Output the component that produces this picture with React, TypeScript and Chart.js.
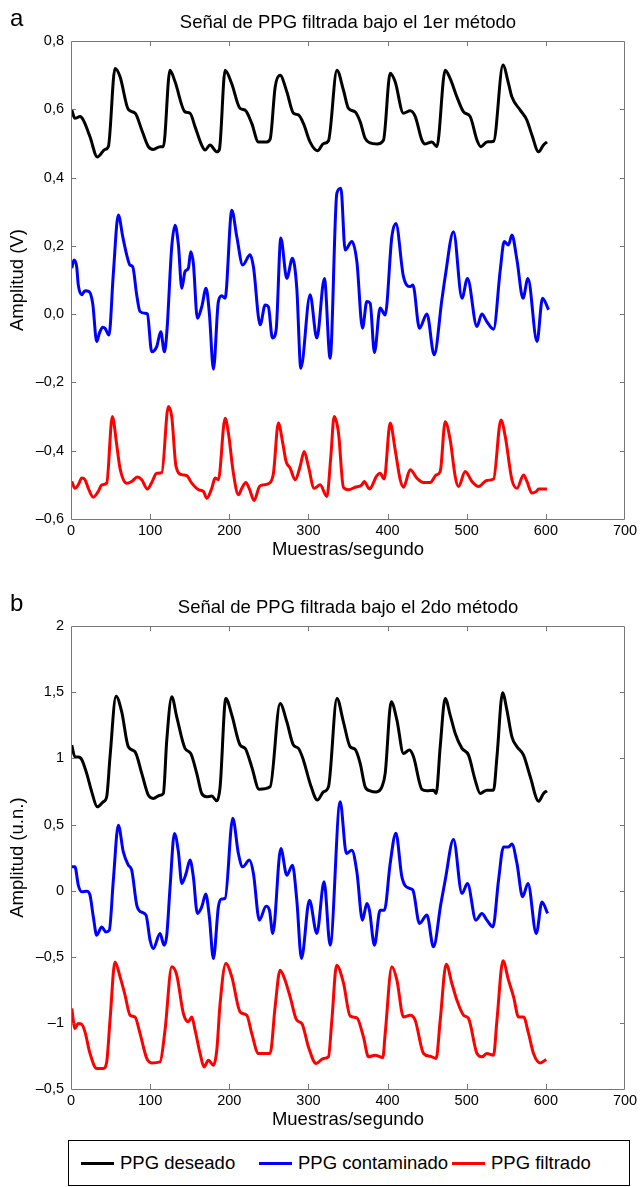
import React, { useEffect, useRef } from "react";
import { Chart, registerables } from "chart.js";

Chart.register(...registerables);

const FONT = "'Liberation Sans', Arial, Helvetica, sans-serif";

// ---- axis ticks / labels ----
const xTicks = [0, 100, 200, 300, 400, 500, 600, 700];
const yTicksA = [-0.6, -0.4, -0.2, 0, 0.2, 0.4, 0.6, 0.8];
const yLabelsA = ["\u20130,6", "\u20130,4", "\u20130,2", "0,0", "0,2", "0,4", "0,6", "0,8"];
const yTicksB = [-1.5, -1, -0.5, 0, 0.5, 1, 1.5, 2];
const yLabelsB = ["\u20130,5", "\u20131", "\u20130,5", "0", "0,5", "1", "1,5", "2"];

const titleA = "Señal de PPG filtrada bajo el 1er método";
const titleB = "Señal de PPG filtrada bajo el 2do método";
const yTitleA = "Amplitud (V)";
const yTitleB = "Amplitud (u.n.)";
const xTitle = "Muestras/segundo";
const seriesNames = ["PPG deseado", "PPG contaminado", "PPG filtrado"];
const seriesColors = ["#000000", "#0000ff", "#ff0000"];

// ---- panel a: [sample, amplitude] ----
const deseadoA: [number, number][] = [
  [1, 0.598], [5, 0.574], [11.4, 0.579], [15.5, 0.569], [24, 0.52], [33.2, 0.461], [43, 0.483], [47.2, 0.491],
  [55.6, 0.72], [62, 0.696], [72.4, 0.6], [81, 0.589], [89.4, 0.54], [97.7, 0.491], [104, 0.483], [112.5, 0.491], [116.7, 0.491],
  [125, 0.715], [131.5, 0.681], [144, 0.593], [150.4, 0.589], [156.8, 0.549], [165, 0.496], [169.4, 0.481], [175.7, 0.496], [184.2, 0.476], [187.5, 0.483],
  [194.7, 0.715], [203, 0.676], [213.6, 0.603], [220, 0.598], [228.4, 0.559], [236.8, 0.505], [247.4, 0.505], [251.6, 0.513],
  [258, 0.666], [264.2, 0.7], [272.7, 0.652], [281, 0.589], [287.4, 0.584], [293.7, 0.559], [302, 0.505], [311.4, 0.479], [319, 0.5], [325.3, 0.508],
  [336, 0.715], [344.2, 0.657], [350.6, 0.603], [359, 0.593], [365.4, 0.564], [371.7, 0.515], [378, 0.502], [386.5, 0.499], [394.8, 0.51],
  [403.3, 0.706], [409.6, 0.681], [420, 0.589], [428.6, 0.596], [435, 0.579], [443.4, 0.51], [447.5, 0.499], [456, 0.505], [462.3, 0.491],
  [472.8, 0.715], [479, 0.691], [487.6, 0.637], [496, 0.593], [504.4, 0.579], [513, 0.51], [518, 0.491], [525.5, 0.505], [534, 0.507],
  [545.8, 0.73], [552.8, 0.676], [557, 0.637], [567.6, 0.598], [576, 0.569], [582.4, 0.525], [590.8, 0.476], [597, 0.496], [601.4, 0.505],
];

const contaminadoA: [number, number][] = [
  [1, 0.135], [3.8, 0.159], [7.2, 0.139], [9.2, 0.086], [13.5, 0.057], [17.7, 0.069], [23.1, 0.066], [27.4, 0.032],
  [32.5, -0.08], [35.8, -0.056], [40.1, -0.038], [43, -0.041], [48, -0.061], [53.5, 0.12], [59.8, 0.291], [65.4, 0.227],
  [70.4, 0.174], [74.6, 0.144], [78, 0.139], [83, 0.057], [87.2, 0.008], [93.6, 0.003], [96.5, 0.001], [102, -0.11],
  [108.3, -0.095], [113.4, -0.051], [118, -0.11], [121, -0.056], [127.3, 0.198], [131.5, 0.261], [135.7, 0.203], [140, 0.076],
  [144.1, 0.125], [148.3, 0.135], [151.3, 0.183], [154.6, 0.149], [159.7, -0.012], [165.2, 0.022], [170.7, 0.076], [174.8, 0.003],
  [180, -0.161], [186.2, 0.037], [190.5, 0.054], [194.7, 0.047], [203.2, 0.305], [209.5, 0.227], [217, 0.144], [226.3, 0.174],
  [230.5, 0.139], [239, -0.031], [245.3, 0.027], [249.4, 0.022], [254.5, -0.07], [259.2, -0.046], [265.1, 0.223], [272.7, 0.105],
  [279.8, 0.164], [285.3, 0.076], [290.4, -0.158], [302.1, 0.057], [310.6, -0.07], [320.2, 0.105], [327.4, -0.129], [335.9, 0.354],
  [341, 0.369], [346.4, 0.188], [354.9, 0.213], [361.2, 0.154], [368.3, -0.041], [373.8, 0.037], [378, 0.032], [383.4, -0.112],
  [390.6, 0.018], [397, -0.002], [405.4, 0.227], [410.5, 0.266], [420.1, 0.11], [428.6, 0.081], [432, 0.086], [440.3, -0.041],
  [449.7, 0.001], [458.9, -0.119], [468.6, 0.042], [472.8, 0.11], [483.3, 0.242], [494, 0.047], [501, 0.105], [512.9, -0.036],
  [519.2, 0.001], [525.5, -0.022], [533.9, -0.044], [542.4, 0.13], [547.4, 0.213], [552.8, 0.203], [557.1, 0.232], [563.5, 0.159],
  [571.1, 0.047], [577.4, 0.105], [588.8, -0.08], [595.8, 0.047], [603.4, 0.013],
];

const filtradoA: [number, number][] = [
  [1, -0.49], [5, -0.51], [9.2, -0.5], [13.5, -0.48], [17.7, -0.485], [21.9, -0.51], [28.2, -0.536], [34.5, -0.519],
  [38.8, -0.5], [45.1, -0.495], [52.2, -0.3], [57.8, -0.383], [61.9, -0.451], [70.4, -0.495], [76.7, -0.49], [83.8, -0.477],
  [89.4, -0.485], [96.5, -0.512], [102, -0.493], [108.3, -0.466], [114.7, -0.464], [123, -0.27], [127.3, -0.3], [132.7, -0.446],
  [140, -0.47], [146.3, -0.473], [152.6, -0.495], [161, -0.514], [167.3, -0.519], [171.6, -0.539], [177.9, -0.51], [182, -0.48],
  [186.2, -0.485], [194.7, -0.305], [198.9, -0.348], [205.2, -0.466], [211.5, -0.529], [215.8, -0.51], [220.9, -0.493], [225.4, -0.512],
  [231.4, -0.546], [238, -0.505], [243, -0.5], [250.7, -0.495], [255.8, -0.466], [262, -0.319], [267.6, -0.378], [271.8, -0.432],
  [276.9, -0.451], [283.2, -0.485], [289.5, -0.446], [294.6, -0.402], [300, -0.446], [307.2, -0.51], [314.8, -0.5], [323.3, -0.534],
  [328.3, -0.417], [332.5, -0.3], [338, -0.348], [344.2, -0.507], [350.6, -0.514], [359, -0.507], [367.5, -0.5], [370.4, -0.49],
  [377.1, -0.512], [386.5, -0.473], [390.6, -0.466], [395.7, -0.483], [403.3, -0.319], [409.6, -0.397], [416, -0.485], [420.1, -0.507],
  [428.6, -0.456], [437, -0.48], [445.4, -0.493], [453.9, -0.493], [461.4, -0.471], [466.5, -0.461], [472.8, -0.315], [479.1, -0.368],
  [485.5, -0.476], [489.6, -0.505], [498.1, -0.461], [506.6, -0.49], [514.9, -0.505], [525.5, -0.487], [533.9, -0.483], [543.2, -0.31],
  [548.7, -0.358], [557.1, -0.485], [563.5, -0.51], [571.8, -0.471], [576.1, -0.49], [582.4, -0.524], [588, -0.519], [590.8, -0.512],
  [601.4, -0.512],
];

// ---- panel b ----
const deseadoB: [number, number][] = [
  [1, 1.1], [5, 1.011], [9.2, 1.011], [13.5, 0.992], [19.8, 0.887], [26.2, 0.747], [33.2, 0.634], [40.8, 0.672], [45.1, 0.71],
  [49.3, 1.012], [56.9, 1.471], [64.1, 1.352], [72.4, 1.088], [80.9, 1.05], [89.4, 0.887], [97.7, 0.722], [104, 0.697], [112.5, 0.722],
  [116.7, 0.735], [121, 1.138], [127.3, 1.466], [133.6, 1.315], [144.1, 1.076], [151.3, 1.038], [158.9, 0.887], [165.2, 0.735],
  [171.5, 0.71], [177.9, 0.715], [184.2, 0.679], [188.4, 0.785], [195.6, 1.454], [203.2, 1.328], [213.7, 1.101], [220, 1.076],
  [228.4, 0.936], [237.7, 0.766], [251.6, 0.785], [264.2, 1.416], [272.7, 1.277], [281, 1.101], [287.4, 1.076], [293.7, 0.987],
  [302.1, 0.811], [311.4, 0.685], [319, 0.747], [325.3, 0.785], [336, 1.454], [344.2, 1.277], [352.7, 1.088], [359, 1.068],
  [365.4, 0.962], [371.7, 0.785], [378, 0.755], [385.6, 0.747], [392.8, 0.785], [397, 0.887], [404.6, 1.428], [411.8, 1.29],
  [420.1, 1.038], [427.7, 1.063], [432.8, 1.012], [443.4, 0.766], [449.7, 0.755], [458, 0.76], [461.4, 0.735], [466.5, 1.088],
  [472.8, 1.454], [479.1, 1.328], [485.5, 1.189], [494, 1.076], [502.3, 1.025], [510.7, 0.836], [517, 0.735], [525.5, 0.76],
  [533.9, 0.76], [538.2, 1.012], [545.3, 1.496], [550.8, 1.365], [557.1, 1.163], [563.5, 1.088], [571.8, 1.025], [580.3, 0.861],
  [590.8, 0.677], [597.1, 0.735], [601.4, 0.755],
];

const contaminadoB: [number, number][] = [
  [1, 0.18], [5, 0.18], [9.2, 0.042], [13.5, -0.009], [19.8, -0.004], [24, -0.034], [28.2, -0.198], [32.5, -0.337],
  [38.8, -0.274], [44.2, -0.312], [48.4, -0.299], [53.5, 0.079], [59.8, 0.495], [66.1, 0.293], [72.4, 0.193], [76.7, 0.155],
  [83.1, -0.11], [88.1, -0.16], [94.8, -0.185], [99.9, -0.374], [104, -0.437], [112.5, -0.324], [117.6, -0.412], [121, -0.337],
  [125.2, 0.029], [130.7, 0.433], [135.7, 0.293], [140, 0.054], [145.4, 0.13], [150.4, 0.231], [154.6, 0.104], [159.7, -0.172],
  [165.2, -0.123], [170.3, -0.026], [174.8, -0.198], [179.9, -0.513], [186.2, -0.123], [189.6, -0.064], [194.7, -0.059], [204.4, 0.548],
  [211.5, 0.281], [217, 0.18], [225.4, 0.231], [230.5, 0.13], [238, -0.223], [246.5, -0.117], [250.7, -0.148], [255, -0.324],
  [265.1, 0.319], [272.7, 0.117], [279.8, 0.193], [285.3, -0.072], [291.2, -0.513], [301.3, -0.072], [310.6, -0.324], [319.8, 0.067],
  [327.4, -0.412], [340.1, 0.672], [348, 0.281], [354.9, 0.306], [361.2, 0.142], [368.3, -0.223], [373.8, -0.097], [377.1, -0.148],
  [383.4, -0.412], [390.6, -0.148], [396, -0.148], [403.3, 0.206], [410.5, 0.435], [418.1, 0.104], [427.7, 0.017], [432, 0.004],
  [440.3, -0.248], [449.7, -0.185], [458, -0.425], [467.4, -0.097], [472.8, 0.079], [483.3, 0.386], [494, -0.021], [501, 0.054],
  [511.6, -0.223], [519.2, -0.172], [525.5, -0.223], [533.1, -0.274], [540.2, 0.079], [546.5, 0.331], [552.8, 0.331], [557.1, 0.352],
  [563.5, 0.206], [570.6, -0.047], [577.4, 0.054], [587.9, -0.324], [595.1, -0.085], [602.2, -0.172],
];

const filtradoB: [number, number][] = [
  [1, -0.891], [5, -1.042], [9.2, -1.005], [13.5, -1.01], [17.7, -1.068], [24, -1.231], [32.5, -1.345], [40.8, -1.345],
  [45.1, -1.295], [49.3, -0.98], [55.6, -0.539], [62, -0.652], [68.3, -0.79], [74.6, -0.942], [80.9, -0.955], [87.2, -1.08],
  [95.7, -1.269], [102, -1.303], [112.5, -1.295], [118.8, -1.055], [127.3, -0.576], [133.6, -0.639], [142, -0.929], [148.3, -0.992],
  [152.6, -0.955], [156.8, -1.055], [163.1, -1.231], [168.1, -1.333], [173.6, -1.282], [179.9, -1.32], [184.2, -1.207], [188.4, -0.853],
  [195.6, -0.551], [203.2, -0.652], [213.7, -0.917], [222.1, -0.942], [228.4, -1.08], [236.8, -1.231], [251.6, -1.231], [257.9, -0.879],
  [264.2, -0.601], [270.5, -0.677], [276.9, -0.803], [285.3, -0.98], [291.7, -1.005], [300, -1.182], [309.7, -1.307], [319, -1.269],
  [325.3, -1.257], [329.6, -0.98], [335.6, -0.564], [344.2, -0.696], [352.7, -0.948], [361.2, -0.962], [369.5, -1.106], [375.9, -1.257],
  [384.3, -1.244], [394, -1.262], [397, -1.08], [405.4, -0.576], [411.8, -0.677], [420.1, -0.955], [428.6, -0.942], [434.9, -0.98],
  [445.4, -1.231], [453.9, -1.252], [461.4, -1.269], [466.5, -0.98], [474.1, -0.556], [481.3, -0.702], [487.6, -0.828], [496, -0.942],
  [502.3, -0.967], [512.9, -1.231], [519.2, -1.257], [525.5, -1.231], [533.9, -1.244], [538.2, -0.98], [545.8, -0.531], [552.8, -0.677],
  [559.2, -0.803], [565.5, -0.955], [571.8, -0.955], [578.1, -1.08], [584.4, -1.231], [592.9, -1.303], [600.5, -1.277],
];

// ---- MATLAB style box with inward ticks ----
const framePlugin = {
  id: "matlabFrame",
  afterDatasetsDraw(chart: any) {
    const { ctx, chartArea } = chart;
    const { left, right, top, bottom } = chartArea;
    const xs = chart.scales.x;
    const ys = chart.scales.y;
    const L = 5;
    ctx.save();
    ctx.strokeStyle = "#777777";
    ctx.lineWidth = 1;
    ctx.beginPath();
    ctx.rect(Math.round(left) + 0.5, Math.round(top) + 0.5, Math.round(right - left) - 1, Math.round(bottom - top));
    xs.ticks.forEach((t: any) => {
      const px = Math.round(xs.getPixelForValue(t.value)) + 0.5;
      if (px <= left + 2 || px >= right - 2) return;
      ctx.moveTo(px, bottom);
      ctx.lineTo(px, bottom - L);
      ctx.moveTo(px, top);
      ctx.lineTo(px, top + L);
    });
    ys.ticks.forEach((t: any) => {
      const py = Math.round(ys.getPixelForValue(t.value)) + 0.5;
      if (py <= top + 2 || py >= bottom - 2) return;
      ctx.moveTo(left, py);
      ctx.lineTo(left + L, py);
      ctx.moveTo(right, py);
      ctx.lineTo(right - L, py);
    });
    ctx.stroke();
    ctx.restore();
  },
};

type Series = { name: string; color: string; points: [number, number][] };

function makeConfig(
  series: Series[],
  yMin: number,
  yMax: number,
  yTicks: number[],
  yLabels: string[],
  title: string,
  yTitle: string
): any {
  return {
    type: "line",
    data: {
      datasets: series.map((s) => ({
        label: s.name,
        data: s.points.map(([x, y]) => ({ x, y })),
        borderColor: s.color,
        backgroundColor: s.color,
        borderWidth: 3,
        pointRadius: 0,
        cubicInterpolationMode: "monotone",
        fill: false,
      })),
    },
    options: {
      animation: false,
      responsive: false,
      events: [],
      layout: { padding: { left: 0, right: 16, top: 0, bottom: 0 } },
      plugins: {
        legend: { display: false },
        tooltip: { enabled: false },
        title: {
          display: true,
          text: title,
          fullSize: false,
          color: "#000",
          font: { family: FONT, size: 18.5, weight: "normal" },
          padding: { top: 12, bottom: 7 },
        },
      },
      scales: {
        x: {
          type: "linear",
          min: 0,
          max: 700,
          afterBuildTicks: (s: any) => {
            s.ticks = xTicks.map((v) => ({ value: v }));
          },
          afterFit: (s: any) => {
            s.height = 50;
          },
          grid: { display: false, drawTicks: false },
          border: { display: false },
          ticks: {
            padding: 3,
            color: "#000",
            maxRotation: 0,
            autoSkip: false,
            font: { family: FONT, size: 14.5 },
            callback: (v: any) => String(v),
          },
          title: {
            display: true,
            text: xTitle,
            color: "#000",
            font: { family: FONT, size: 18.5, weight: "normal" },
            padding: { top: 0, bottom: 8 },
          },
        },
        y: {
          type: "linear",
          min: yMin,
          max: yMax,
          afterBuildTicks: (s: any) => {
            s.ticks = yTicks.map((v) => ({ value: v }));
          },
          afterFit: (s: any) => {
            s.width = 71;
          },
          grid: { display: false, drawTicks: false },
          border: { display: false },
          ticks: {
            padding: 7,
            color: "#000",
            autoSkip: false,
            font: { family: FONT, size: 14.5 },
            callback: (_v: any, i: number) => yLabels[i],
          },
          title: {
            display: true,
            text: yTitle,
            color: "#000",
            font: { family: FONT, size: 18.5, weight: "normal" },
            padding: { top: 7, bottom: 0 },
          },
        },
      },
    },
    plugins: [framePlugin],
  };
}

function PanelChart(props: { top: number; height: number; cfg: () => any }) {
  const ref = useRef<HTMLCanvasElement | null>(null);
  useEffect(() => {
    if (!ref.current) return;
    const chart = new Chart(ref.current, props.cfg());
    return () => chart.destroy();
  }, []);
  return (
    <canvas
      ref={ref}
      width={641}
      height={props.height}
      style={{ position: "absolute", left: 0, top: props.top, width: 641, height: props.height, display: "block" }}
    />
  );
}

export default function App() {
  const seriesA: Series[] = [
    { name: seriesNames[0], color: seriesColors[0], points: deseadoA },
    { name: seriesNames[1], color: seriesColors[1], points: contaminadoA },
    { name: seriesNames[2], color: seriesColors[2], points: filtradoA },
  ];
  const seriesB: Series[] = [
    { name: seriesNames[0], color: seriesColors[0], points: deseadoB },
    { name: seriesNames[1], color: seriesColors[1], points: contaminadoB },
    { name: seriesNames[2], color: seriesColors[2], points: filtradoB },
  ];
  const legendX = [12, 190, 383];
  return (
    <div
      style={{
        position: "absolute",
        left: 0,
        top: 0,
        width: 641,
        height: 1187,
        background: "#fff",
        fontFamily: FONT,
        overflow: "hidden",
      }}
    >
      <PanelChart top={0} height={569} cfg={() => makeConfig(seriesA, -0.6, 0.8, yTicksA, yLabelsA, titleA, yTitleA)} />
      <PanelChart top={585} height={554} cfg={() => makeConfig(seriesB, -1.5, 2, yTicksB, yLabelsB, titleB, yTitleB)} />
      <div style={{ position: "absolute", left: 10, top: 4, fontSize: 24, lineHeight: "28px" }}>a</div>
      <div style={{ position: "absolute", left: 10, top: 589, fontSize: 24, lineHeight: "28px" }}>b</div>
      <div
        style={{
          position: "absolute",
          left: 68,
          top: 1140,
          width: 562,
          height: 46,
          border: "1px solid #000",
          boxSizing: "border-box",
        }}
      >
        {seriesNames.map((n, i) => (
          <div
            key={n}
            style={{
              position: "absolute",
              left: legendX[i],
              top: 0,
              height: 44,
              display: "flex",
              alignItems: "center",
              fontSize: 18.5,
              whiteSpace: "nowrap",
            }}
          >
            <span style={{ display: "inline-block", width: 33, height: 3, background: seriesColors[i], marginRight: 6 }} />
            <span>{n}</span>
          </div>
        ))}
      </div>
    </div>
  );
}
